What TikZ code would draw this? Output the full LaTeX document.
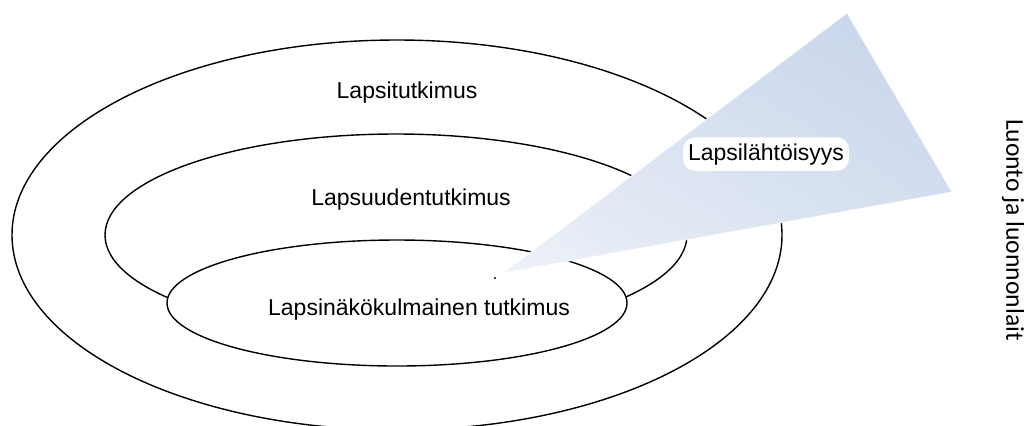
\documentclass[tikz,border=0pt]{standalone}
\usepackage{fontspec}
\setmainfont{Liberation Sans}
\newfontfamily\sidefont{Carlito}
\usepackage{xcolor}
\usetikzlibrary{positioning, shadings}

\definecolor{wedgetop}{RGB}{198,211,234}
\definecolor{wedgemid}{RGB}{214,224,240}
\definecolor{wedgelow}{RGB}{238,242,249}

\begin{document}
\begin{tikzpicture}[
  x=0.5pt, y=-0.5pt,
  ring/.style={draw=black, line width=0.7pt},
  circlelabel/.style={anchor=base, inner sep=0pt, font=\fontsize{11.5}{13}\selectfont},
  glowlabel/.style={anchor=base, fill=white, rounded corners=6pt, inner xsep=2.5pt, inner ysep=3pt, font=\fontsize{11.5}{13}\selectfont},
  sidelabel/.style={rotate=-90, inner sep=0pt, font=\sidefont\fontsize{12.8}{15}\selectfont}
]
\useasboundingbox (0,0) rectangle (1026,425);

% Ellipses
\draw[ring] (397,235) ellipse [x radius=385, y radius=195];
\draw[ring] (396,235) ellipse [x radius=291, y radius=101];
\draw[ring, fill=white] (397,303) ellipse [x radius=230, y radius=63];

% Wedge
\coordinate (apex) at (503,273);
\coordinate (tip) at (847,13);
\coordinate (corner) at (952,192);
\shade[upper right=wedgetop, upper left=wedgemid, lower right=wedgemid, lower left=wedgelow]
  (apex) -- (tip) -- (corner) -- cycle;
\draw[white, line width=0.5pt, opacity=0.7] (apex) -- (tip) -- (corner) -- cycle;
\fill (495,278) circle (1.2);

% Labels
\node[circlelabel] (lapsi) at (407,98) {Lapsitutkimus};
\node[circlelabel] (lapsuus) at (411,205) {Lapsuudentutkimus};
\node[circlelabel] (nakokulma) at (419,315) {Lapsinäkökulmainen tutkimus};
\node[glowlabel] (lahtoisyys) at (766,160) {Lapsilähtöisyys};
\node[sidelabel] (luonto) at (1013,230) {Luonto ja luonnonlait};

\end{tikzpicture}
\end{document}
